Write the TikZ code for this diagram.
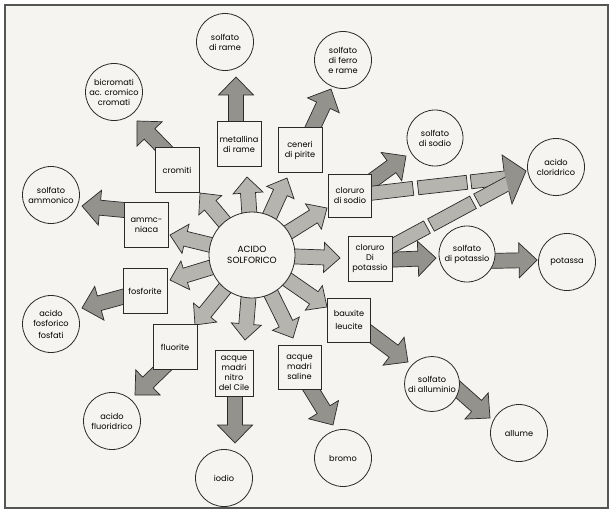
\documentclass[tikz,border=0pt]{standalone}
\usepackage{fontspec}
\setmainfont{Poppins}
\usetikzlibrary{calc,backgrounds}
\definecolor{paper}{HTML}{F5F4F0}
\definecolor{arrlight}{HTML}{B6B4AF}
\definecolor{arrdark}{HTML}{94928D}
\definecolor{ink}{HTML}{2A2A2A}
\def\sw{7.5pt}\def\hw{15pt}\def\hl{16pt}
\newcommand\fatarr[3][]{%
 \draw[fatstyle,#1] let \p1=#2, \p2=#3, \n1={atan2(\y2-\y1,\x2-\x1)}, \n2={veclen(\x2-\x1,\y2-\y1)} in
 ($(\p1)+(\n1+90:\sw)$) -- ($(\p1)+(\n1:\n2-\hl)+(\n1+90:\sw)$) -- ($(\p1)+(\n1:\n2-\hl)+(\n1+90:\hw)$) -- (\p2) -- ($(\p1)+(\n1:\n2-\hl)+(\n1-90:\hw)$) -- ($(\p1)+(\n1:\n2-\hl)+(\n1-90:\sw)$) -- ($(\p1)+(\n1-90:\sw)$) -- cycle;}
\newcommand\fatseg[3][]{%
 \draw[fatstyle,#1] let \p1=#2, \p2=#3, \n1={atan2(\y2-\y1,\x2-\x1)} in
 ($(\p1)+(\n1+90:\sw)$) -- ($(\p2)+(\n1+90:\sw)$) -- ($(\p2)+(\n1-90:\sw)$) -- ($(\p1)+(\n1-90:\sw)$) -- cycle;}
\tikzset{
 fatstyle/.style={draw=ink, line width=0.7pt, line join=miter, fill=arrlight},
 darkfill/.style={fill=arrdark},
 boxnode/.style={draw=ink, line width=0.8pt, fill=paper, minimum width=44pt, minimum height=45pt, inner sep=1pt, align=center, font=\fontsize{8.2}{10}\selectfont},
 circnode/.style={circle, draw=ink, line width=0.8pt, fill=paper, minimum size=57pt, inner sep=0pt, align=center, font=\fontsize{8.2}{10}\selectfont},
 framebox/.style={draw=ink!80, line width=1.2pt, fill=paper},
}
\begin{document}
\begin{tikzpicture}[x=1pt,y=-1pt]
\useasboundingbox (0,0) rectangle (612,513);
% centre
\node[circnode, minimum size=86pt, font=\fontsize{9}{11.5}\selectfont] (C) at (252,255) {ACIDO\\SOLFORICO};
% boxes
\node[boxnode] (met) at (239,144) {metallina\\di rame};
\node[boxnode] (cen) at (300,150) {ceneri\\di pirite};
\node[boxnode] (cro) at (177,170) {cromiti};
\node[boxnode] (amm) at (146.5,225) {ammc-\\niaca};
\node[boxnode] (fos) at (145,291) {fosforite};
\node[boxnode] (flu) at (175,347) {fluorite};
\node[boxnode, minimum width=38pt, minimum height=46pt] (nit) at (234,373) {acque\\madri\\nitro\\del Cile};
\node[boxnode, minimum width=43pt, minimum height=44pt] (sal) at (299.5,367) {acque\\madri\\saline};
\node[boxnode, minimum width=43pt, minimum height=44pt] (bau) at (349,320) {bauxite\\[3pt]leucite};
\node[boxnode] (pot) at (370,259) {cloruro\\Di\\potassio};
\node[boxnode, minimum width=43pt, minimum height=43pt] (sod) at (350,196) {cloruro\\di sodio};
% circles
\node[circnode] (rame) at (225,42) {solfato\\di rame};
\node[circnode] (ferro) at (343,60) {solfato\\di ferro\\e rame};
\node[circnode] (bicr) at (114,92) {bicromati\\ac. cromico\\cromati};
\node[circnode] (amon) at (51,195) {solfato\\ammonico};
\node[circnode] (fosf) at (51,324) {acido\\fosforico\\[2pt]fosfati};
\node[circnode] (fluo) at (112,421) {acido\\fluoridrico};
\node[circnode] (iodio) at (224,478) {iodio};
\node[circnode] (bromo) at (343,458) {bromo};
\node[circnode, minimum size=55pt] (allu) at (432,384) {solfato\\di alluminio};
\node[circnode] (allume) at (519,433) {allume};
\node[circnode, minimum size=56pt] (sodio) at (435,138) {solfato\\di sodio};
\node[circnode] (clor) at (556,167) {acido\\cloridrico};
\node[circnode, minimum size=56pt] (spot) at (467,254) {solfato\\di potassio};
\node[circnode] (potassa) at (567,262) {potassa};
% tips of the radial arrows
\coordinate (t-cro) at (200,193);
\coordinate (t-met) at (247,177);
\coordinate (t-cen) at (287,178);
\coordinate (t-sod) at (327,208);
\coordinate (t-pot) at (340,258);
\coordinate (t-bau) at (327,307);
\coordinate (t-sal) at (293,338);
\coordinate (t-nit) at (245,340);
\coordinate (t-flu) at (195,325);
\coordinate (t-fos) at (170,280);
\coordinate (t-amm) at (170,235);
% outer arrows: starts (inside the nodes) and tips
\coordinate (s-met) at (236,131); \coordinate (e-met) at (236,77);
\coordinate (s-cen) at (309,136); \coordinate (e-cen) at (331,89);
\coordinate (s-cro) at (170,155); \coordinate (e-cro) at (137,121);
\coordinate (s-amm) at (135,211); \coordinate (e-amm) at (82,206);
\coordinate (s-fos) at (133,294); \coordinate (e-fos) at (82,308);
\coordinate (s-flu) at (168,363); \coordinate (e-flu) at (135,395);
\coordinate (s-nit) at (235,386); \coordinate (e-nit) at (235,443);
\coordinate (s-sal) at (306,381); \coordinate (e-sal) at (333,425);
\coordinate (s-bau) at (360,326); \coordinate (e-bau) at (408,362);
\coordinate (s-allu) at (444,377); \coordinate (e-allu) at (490,418);
\coordinate (s-pot) at (382,260); \coordinate (e-pot) at (436,258);
\coordinate (s-spot) at (485,261); \coordinate (e-spot) at (537,260);
\coordinate (s-sod) at (362,188); \coordinate (e-sod) at (406,156);
% dashed shafts
\coordinate (u0) at (365,194); \coordinate (u1) at (413,188.4);
\coordinate (u2) at (418,187.8); \coordinate (u3) at (467,182.3);
\coordinate (u4) at (471,181.8); \coordinate (u5) at (510,177.4);
\coordinate (l0) at (385,249.8); \coordinate (l1) at (427,227.1);
\coordinate (l2) at (431,225); \coordinate (l3) at (473,202.3);
\coordinate (l4) at (477,200.2); \coordinate (l5) at (510,182.4);
\coordinate (h1) at (504,171); \coordinate (h2) at (502,155);
\coordinate (h3) at (526,171); \coordinate (h4) at (512,204);
\coordinate (h5) at (509,192);
\begin{pgfonlayer}{background}
\draw[framebox] (5,5) rectangle (608,508);
% radial arrows
\foreach \t in {cro,met,cen,sod,pot,bau,sal,nit,flu,fos,amm}{\fatarr{(C)}{(t-\t)}}
% outer arrows
\def\sw{7.5pt}\def\hw{17.5pt}\def\hl{18pt}
\foreach \t in {met,cen,cro,amm,fos,flu,nit,sal,bau,allu,pot,spot,sod}{\fatarr[darkfill]{(s-\t)}{(e-\t)}}
% dashed arrows to acido cloridrico
\def\sw{7pt}
\fatseg{(u0)}{(u1)}\fatseg{(u2)}{(u3)}\fatseg{(u4)}{(u5)}
\fatseg{(l0)}{(l1)}\fatseg{(l2)}{(l3)}\fatseg{(l4)}{(l5)}
\fill[arrdark] (h1) -- (h2) -- (h3) -- (h4) -- (h5) -- cycle;
\draw[ink, line width=0.7pt, line join=miter] (h1) -- (h2) -- (h3) -- (h4) -- (h5);
\end{pgfonlayer}
\end{tikzpicture}
\end{document}
